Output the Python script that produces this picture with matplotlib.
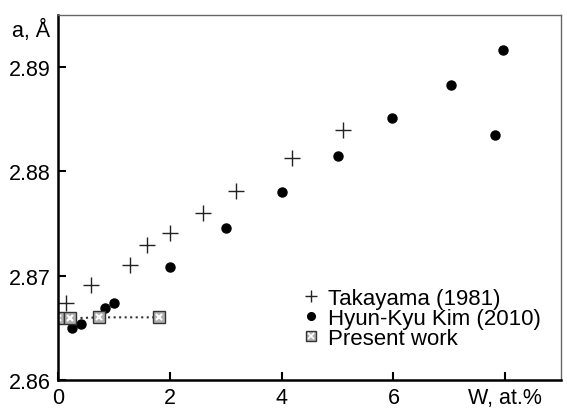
import numpy as np
import matplotlib
matplotlib.use('Agg')
import matplotlib.pyplot as plt
from matplotlib.lines import Line2D

plt.rcParams['font.family'] = ['Liberation Sans', 'DejaVu Sans']

# Takayama (1981)
tak_x = [0.14, 0.6, 1.29, 1.6, 2.0, 2.59, 3.18, 4.18, 5.09]
tak_y = [2.8674, 2.8691, 2.8710, 2.8729, 2.8741, 2.8760, 2.8781, 2.8813, 2.8840]

# Hyun-Kyu Kim (2010)
kim_x = [0.25, 0.41, 0.84, 1.0, 2.0, 3.0, 4.0, 5.0, 5.98, 7.02, 7.82, 7.96]
kim_y = [2.8650, 2.8654, 2.8669, 2.8674, 2.8708, 2.8746, 2.8780, 2.8815, 2.8851, 2.8883, 2.8835, 2.8916]

# Present work
pw_x = [0.01, 0.21, 0.74, 1.8]
pw_y = [2.8659, 2.8659, 2.8660, 2.8660]

fig, ax = plt.subplots(figsize=(5.67, 4.10), dpi=100)
fig.subplots_adjust(left=0.102, right=0.99, top=0.961, bottom=0.071)

ax.plot(tak_x, tak_y, linestyle='none', marker='+', color='#222222', markersize=11, markeredgewidth=1.0)
ax.plot(kim_x, kim_y, linestyle='none', marker='o', color='black', markersize=6.5)
ax.plot(pw_x, pw_y, linestyle=':', color='#333333', linewidth=1.5, marker='s',
        markersize=9, markerfacecolor='#b0b0b0', markeredgecolor='#333333', markeredgewidth=1.0)
ax.plot(pw_x, pw_y, linestyle='none', marker='x', color='white', markersize=5, markeredgewidth=1.5)

ax.set_xlim(0, 9)
ax.set_ylim(2.86, 2.895)
ax.set_xticks([0, 2, 4, 6, 8])
ax.set_xticklabels(['0', '2', '4', '6', 'W, at.%'])
ax.set_yticks([2.86, 2.87, 2.88, 2.89])
ax.set_yticklabels(['2.86', '2.87', '2.88', '2.89'])
ax.tick_params(direction='in', length=6, width=1.5, labelsize=15.5, pad=5)
for s in ['left', 'bottom']:
    ax.spines[s].set_linewidth(1.8)
for s in ['top', 'right']:
    ax.spines[s].set_linewidth(1.0)
    ax.spines[s].set_color('#666666')
ax.text(-0.13, 2.8936, 'a, Å', ha='right', va='center', fontsize=15.5)

h1 = Line2D([], [], linestyle='none', marker='+', color='#222222', markersize=9, markeredgewidth=1.0)
h2 = Line2D([], [], linestyle='none', marker='o', color='black', markersize=5.5)
h3 = Line2D([], [], linestyle='none', marker='s', markersize=7, markerfacecolor='#b0b0b0',
            markeredgecolor='#333333')
h3x = Line2D([], [], linestyle='none', marker='x', color='white', markersize=4, markeredgewidth=1.2)
ax.legend([h1, h2, (h3, h3x)], ['Takayama (1981)', 'Hyun-Kyu Kim (2010)', 'Present work'],
          loc='lower right', frameon=False, fontsize=16, handlelength=0.8, handletextpad=0.4,
          labelspacing=-0.05, bbox_to_anchor=(1.0, 0.03))

plt.savefig('out.png')
